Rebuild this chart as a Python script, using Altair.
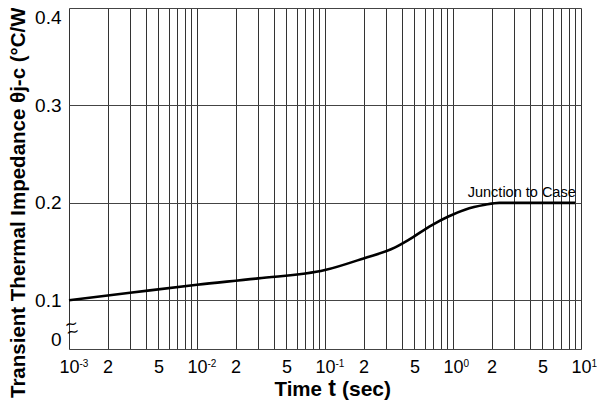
import altair as alt
import pandas as pd

# ---- data ----
time_s = [0.001, 0.003, 0.01, 0.03, 0.1, 0.2, 0.35, 0.45, 0.68, 0.92, 1.24, 1.78, 2.3, 4.0, 9.0]
impedance = [0.100, 0.1077, 0.116, 0.1225, 0.131, 0.143, 0.154, 0.162, 0.177, 0.186, 0.193, 0.198, 0.200, 0.200, 0.200]

x_ticks = [m * 10.0 ** e for e in range(-3, 1) for m in range(1, 10)] + [10.0]
y_ticks = [0.05, 0.1, 0.2, 0.3, 0.4]
decades = [0.001, 0.01, 0.1, 1.0, 10.0]
exponents = ["-3", "-2", "-1", "0", "1"]

series_label = "Junction to Case"
series_label_t = 9.1
series_label_v = 0.2
break_t = 0.001
break_v = 0.071

W, H = 512, 341
FONT = "Liberation Sans"

curve_df = pd.DataFrame({"t": time_s, "v": impedance})
sup_df = pd.DataFrame({"t": decades, "s": exponents})

x_scale = alt.Scale(type="log", domain=[0.001, 10], nice=False)
y_scale = alt.Scale(domain=[0.05, 0.4], nice=False, zero=False)

mant = "round(datum.value / pow(10, floor(log(datum.value) / LN10 + 1e-6)))"
x_label_expr = f"{mant} == 1 ? '10' : ({mant} == 2 || {mant} == 5 ? '' + {mant} : '')"

x_axis = alt.Axis(
    values=x_ticks, labelExpr=x_label_expr, title=None, grid=True,
    gridColor="#333333", gridWidth=1, ticks=False, domain=False,
    labelOverlap=False, labelFlush=False, labelBound=False,
    labelFont=FONT, labelFontSize=18, labelColor="black", labelPadding=9,
)
y_axis = alt.Axis(
    values=y_ticks,
    labelExpr="datum.value < 0.07 ? '0' : format(datum.value, '.1f')",
    title=None, grid=True, gridColor="#444444", gridWidth=1, ticks=False,
    domain=False, labelFlush=True, labelOverlap=False,
    labelFont=FONT, labelFontSize=19, labelColor="black", labelPadding=8,
)

line = alt.Chart(curve_df).mark_line(
    color="black", strokeWidth=2.6, interpolate="monotone"
).encode(
    x=alt.X("t:Q", scale=x_scale, axis=x_axis),
    y=alt.Y("v:Q", scale=y_scale, axis=y_axis),
)

sups = alt.Chart(sup_df).mark_text(
    font=FONT, fontSize=10, align="left", baseline="top", dx=10.5, color="black"
).encode(
    x=alt.X("t:Q", scale=x_scale),
    y=alt.value(H + 10),
    text="s:N",
)

label = alt.Chart(pd.DataFrame({"t": [series_label_t], "v": [series_label_v], "s": [series_label]})).mark_text(
    font=FONT, fontSize=14.5, align="right", baseline="alphabetic", dy=-6, color="black"
).encode(x=alt.X("t:Q", scale=x_scale), y=alt.Y("v:Q", scale=y_scale), text="s:N")

brk_df = pd.DataFrame({"t": [break_t], "v": [break_v], "s": ["~"]})
brk1 = alt.Chart(brk_df).mark_text(
    font="DejaVu Sans", fontSize=16, align="center", baseline="middle", dx=3, dy=-4, angle=350, color="black"
).encode(x=alt.X("t:Q", scale=x_scale), y=alt.Y("v:Q", scale=y_scale), text="s:N")
brk2 = alt.Chart(brk_df).mark_text(
    font="DejaVu Sans", fontSize=16, align="center", baseline="middle", dx=3, dy=4, angle=350, color="black"
).encode(x=alt.X("t:Q", scale=x_scale), y=alt.Y("v:Q", scale=y_scale), text="s:N")

TY = H + 47
xt1 = alt.Chart(pd.DataFrame({"s": ["Time"]})).mark_text(
    font=FONT, fontSize=20.5, fontWeight="bold", align="right", baseline="alphabetic", color="black"
).encode(x=alt.value(253), y=alt.value(TY), text="s:N")
xt2 = alt.Chart(pd.DataFrame({"s": ["t"]})).mark_text(
    font=FONT, fontSize=23, fontWeight="bold", align="center", baseline="alphabetic", color="black"
).encode(x=alt.value(263), y=alt.value(TY), text="s:N")
xt3 = alt.Chart(pd.DataFrame({"s": ["(sec)"]})).mark_text(
    font=FONT, fontSize=21, fontWeight="bold", align="left", baseline="alphabetic", color="black"
).encode(x=alt.value(273), y=alt.value(TY), text="s:N")

ytitle = alt.Chart(pd.DataFrame({"s": ["Transient Thermal Impedance θj-c (°C/W)"]})).mark_text(
    font=FONT, fontSize=20.5, fontWeight="bold", angle=270, align="left", baseline="middle", color="black"
).encode(x=alt.value(-50), y=alt.value(390), text="s:N")

title = alt.Chart(pd.DataFrame({"s": ["Transient Thermal Impedance"]})).mark_text(
    font=FONT, fontSize=20, fontWeight="bold", align="center", baseline="alphabetic", color="black"
).encode(x=alt.value(185), y=alt.value(-5), text="s:N")

chart = alt.layer(line, sups, label, brk1, brk2, xt1, xt2, xt3, ytitle, title).properties(
    width=W, height=H,
    autosize=alt.AutoSizeParams(type="none"),
    padding={"left": 61, "top": 0, "right": 16, "bottom": 54},
).configure_view(stroke="black", strokeWidth=1.3).configure(background="white")

chart.save("out.html", embed_options={"renderer": "svg", "actions": False})
